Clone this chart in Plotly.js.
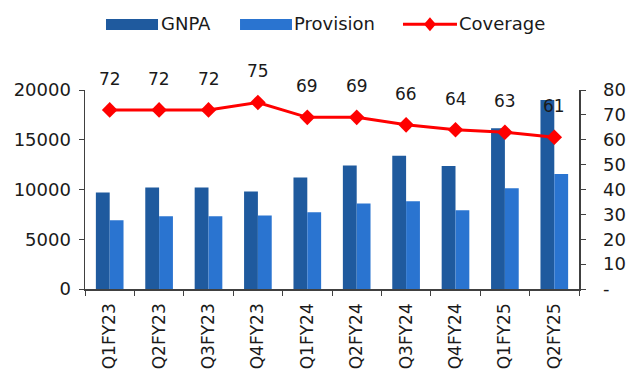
<!DOCTYPE html>
<html>
<head>
<meta charset="utf-8">
<script src="https://cdn.plot.ly/plotly-3.0.1.min.js"></script>
<style>
  html, body { margin: 0; padding: 0; background: #ffffff; }
  #chart { width: 627px; height: 369px; }
</style>
</head>
<body>
<div id="chart"></div>
<script>
// Quarterly asset quality: GNPA and provisions (left axis), coverage ratio % (right axis)
const quarters = ['Q1FY23', 'Q2FY23', 'Q3FY23', 'Q4FY23', 'Q1FY24', 'Q2FY24', 'Q3FY24', 'Q4FY24', 'Q1FY25', 'Q2FY25'];
const gnpa = [9700, 10200, 10200, 9800, 11200, 12400, 13400, 12350, 16150, 19000];
const provision = [6900, 7300, 7300, 7380, 7720, 8600, 8830, 7920, 10130, 11550];
const coverage = [72, 72, 72, 75, 69, 69, 66, 64, 63, 61];
const leftTicks = [0, 5000, 10000, 15000, 20000];
const rightTicks = [0, 10, 20, 30, 40, 50, 60, 70, 80];
const rightTickText = ['-', '10', '20', '30', '40', '50', '60', '70', '80'];

const FONT = 'DejaVu Sans, sans-serif';
const TEXT = '#1a1a1a';
const AXIS = '#404040';
const C_GNPA = '#1F5A9E';
const C_PROV = '#2A74D0';
const C_COV = '#FF0000';

const traces = [
  {
    type: 'bar', name: 'GNPA', x: quarters, y: gnpa,
    marker: { color: C_GNPA }, showlegend: false, hoverinfo: 'x+y'
  },
  {
    type: 'bar', name: 'Provision', x: quarters, y: provision,
    marker: { color: C_PROV }, showlegend: false, hoverinfo: 'x+y'
  },
  {
    type: 'scatter', mode: 'lines+markers', name: 'Coverage',
    x: quarters, y: coverage, yaxis: 'y2',
    line: { color: C_COV, width: 3 },
    marker: { symbol: 'diamond', size: 12, color: C_COV },
    showlegend: false, cliponaxis: false
  }
];

// Value labels above the coverage markers
const annotations = quarters.map((q, i) => ({
  x: q, y: coverage[i], xref: 'x', yref: 'y2',
  text: String(coverage[i]), showarrow: false,
  yshift: 31, yanchor: 'middle',
  font: { family: FONT, size: 17, color: TEXT }
}));

// Legend row drawn as shapes + labels (paper coordinates)
const legendY = 1.336;
function legendLabel(x, text) {
  return {
    x: x, y: legendY, xref: 'paper', yref: 'paper',
    xanchor: 'left', yanchor: 'middle', showarrow: false,
    text: text, font: { family: FONT, size: 18, color: TEXT }
  };
}
annotations.push(legendLabel(0.150, 'GNPA'));
annotations.push(legendLabel(0.419, 'Provision'));
annotations.push(legendLabel(0.753, 'Coverage'));

const shapes = [
  { type: 'rect', xref: 'paper', yref: 'paper', x0: 0.0425, x1: 0.1478, y0: 1.302, y1: 1.357,
    fillcolor: C_GNPA, line: { width: 0 } },
  { type: 'rect', xref: 'paper', yref: 'paper', x0: 0.3138, x1: 0.419, y0: 1.302, y1: 1.357,
    fillcolor: C_PROV, line: { width: 0 } },
  { type: 'line', xref: 'paper', yref: 'paper', x0: 0.6437, x1: 0.753, y0: 1.331, y1: 1.331,
    line: { color: C_COV, width: 3 } },
  { type: 'path', xref: 'paper', yref: 'paper', xsizemode: 'pixel', ysizemode: 'pixel',
    xanchor: 0.6983, yanchor: 1.331,
    path: 'M 0 7 L 6 0 L 0 -7 L -6 0 Z',
    fillcolor: C_COV, line: { width: 0 } }
];

const layout = {
  width: 627, height: 369,
  margin: { l: 85, r: 48, t: 90, b: 80, pad: 0 },
  paper_bgcolor: '#ffffff', plot_bgcolor: '#ffffff',
  font: { family: FONT, size: 18, color: TEXT },
  barmode: 'group', bargap: 0.44, bargroupgap: 0,
  showlegend: false,
  xaxis: {
    type: 'category', range: [-0.5, quarters.length - 0.5],
    automargin: false, showgrid: false, zeroline: false,
    showline: true, linecolor: AXIS, linewidth: 1.5,
    ticks: 'outside', tickson: 'boundaries', ticklen: 5, tickcolor: AXIS,
    ticklabelstandoff: 6,
    tickangle: -90, tickfont: { family: FONT, size: 17, color: TEXT }
  },
  yaxis: {
    range: [0, 20000], tickvals: leftTicks, ticktext: leftTicks.map(String),
    automargin: false, showgrid: false, zeroline: false,
    showline: true, linecolor: AXIS, linewidth: 1.5,
    ticks: 'outside', ticklen: 5, tickcolor: AXIS,
    ticklabelstandoff: 4,
    tickfont: { family: FONT, size: 18, color: TEXT }
  },
  yaxis2: {
    overlaying: 'y', side: 'right', range: [0, 80],
    tickvals: rightTicks, ticktext: rightTickText,
    automargin: false, showgrid: false, zeroline: false,
    showline: true, linecolor: AXIS, linewidth: 1.5,
    ticks: 'outside', ticklen: 5, tickcolor: AXIS,
    ticklabelstandoff: 14,
    tickfont: { family: FONT, size: 18, color: TEXT }
  },
  annotations: annotations,
  shapes: shapes
};

Plotly.newPlot('chart', traces, layout, { displayModeBar: false, staticPlot: true });
</script>
</body>
</html>
